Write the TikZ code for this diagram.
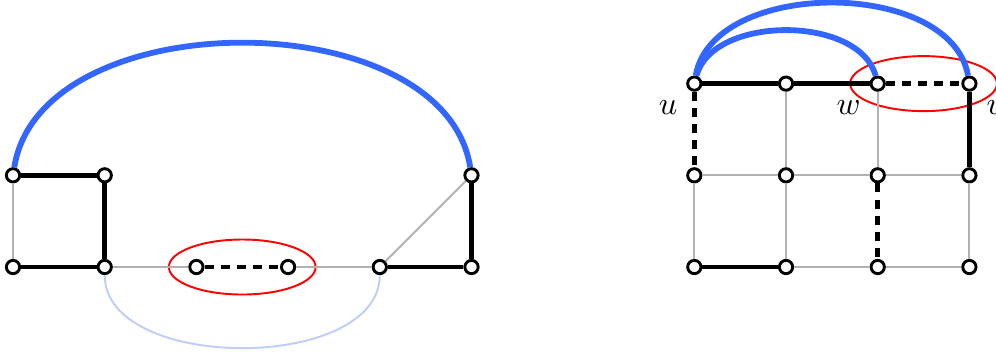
\documentclass[tikz,border=0pt]{standalone}
\usepackage{tikz}
\usetikzlibrary{positioning}
\definecolor{arcblue}{RGB}{51, 102, 255}
\definecolor{paleblue}{RGB}{190, 205, 250}
\definecolor{edgegray}{RGB}{178, 178, 178}

\begin{document}
\begin{tikzpicture}[
        vertex/.style={circle, draw=black, line width=0.9pt, fill=white,
                       inner sep=0pt, minimum size=0.145cm},
        lightedge/.style={edgegray, line width=0.6pt},
        thickedge/.style={black, line width=1.5pt},
        dashedge/.style={black, line width=1.5pt, dash pattern=on 2.8pt off 2.2pt},
        bluearc/.style={arcblue, line width=1.8pt},
        palearc/.style={paleblue, line width=0.6pt},
        pairloop/.style={red, line width=0.6pt}
      ]
        \useasboundingbox (-0.142,-0.916) rectangle (10.72,2.912);
        % left graph
        \node[vertex] (a) at (0,1) {};
        \node[vertex] (b) at (1,1) {};
        \node[vertex] (c) at (0,0) {};
        \node[vertex] (d) at (1,0) {};
        \node[vertex] (e) at (2,0) {};
        \node[vertex] (f) at (3,0) {};
        \node[vertex] (g) at (4,0) {};
        \node[vertex] (h) at (5,0) {};
        \node[vertex] (i) at (5,1) {};
        \draw[pairloop] (2.5,0) ellipse (0.8cm and 0.3cm);
        \draw[bluearc] (a) .. controls (0.3,2.9) and (4.7,2.9) .. (i);
        \draw[palearc] (d) .. controls (1,-1.15) and (4,-1.15) .. (g);
        \draw[lightedge] (a) -- (c);
        \draw[lightedge] (d) -- (e);
        \draw[lightedge] (f) -- (g);
        \draw[lightedge] (g) -- (i);
        \draw[thickedge] (a) -- (b);
        \draw[thickedge] (b) -- (d);
        \draw[thickedge] (c) -- (d);
        \draw[thickedge] (g) -- (h);
        \draw[thickedge] (h) -- (i);
        \draw[dashedge] (e) -- (f);
        % right grid
        \begin{scope}[xshift=7.43cm]
        \node[vertex, label={[label distance=0pt]below left:$u$}] (u) at (0,2) {};
        \node[vertex] (t1) at (1,2) {};
        \node[vertex, label={[label distance=0pt]below left:$w$}] (w) at (2,2) {};
        \node[vertex, label={[label distance=0pt]below right:$v$}] (v) at (3,2) {};
        \node[vertex] (m0) at (0,1) {};
        \node[vertex] (m1) at (1,1) {};
        \node[vertex] (m2) at (2,1) {};
        \node[vertex] (m3) at (3,1) {};
        \node[vertex] (b0) at (0,0) {};
        \node[vertex] (b1) at (1,0) {};
        \node[vertex] (b2) at (2,0) {};
        \node[vertex] (b3) at (3,0) {};
        \draw[pairloop] (2.5,2) ellipse (0.8cm and 0.3cm);
        \draw[bluearc] (u) .. controls (0.2,2.75) and (1.8,2.75) .. (w);
        \draw[bluearc] (u) .. controls (0.2,3.15) and (2.8,3.15) .. (v);
        \draw[lightedge] (t1) -- (m1);
        \draw[lightedge] (w) -- (m2);
        \draw[lightedge] (m0) -- (m1);
        \draw[lightedge] (m1) -- (m2);
        \draw[lightedge] (m2) -- (m3);
        \draw[lightedge] (m0) -- (b0);
        \draw[lightedge] (m1) -- (b1);
        \draw[lightedge] (m3) -- (b3);
        \draw[lightedge] (b1) -- (b2);
        \draw[lightedge] (b2) -- (b3);
        \draw[thickedge] (u) -- (t1);
        \draw[thickedge] (t1) -- (w);
        \draw[thickedge] (v) -- (m3);
        \draw[thickedge] (b0) -- (b1);
        \draw[dashedge] (w) -- (v);
        \draw[dashedge] (u) -- (m0);
        \draw[dashedge] (m2) -- (b2);
        \end{scope}
      \end{tikzpicture}
\end{document}
